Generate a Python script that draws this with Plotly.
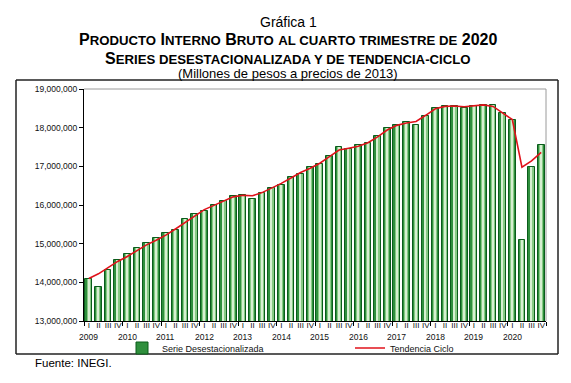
import numpy as np
import plotly.graph_objects as go

years = [str(y) for y in range(2009, 2021)]
quarters = ["I", "II", "III", "IV"]

# Serie desestacionalizada (billones -> x1e6 millones de pesos)
serie_desest = [14.09, 13.875, 14.33, 14.58, 14.73, 14.89, 15.03, 15.15,
                15.27, 15.35, 15.64, 15.77, 15.85, 15.99, 16.10, 16.23,
                16.25, 16.16, 16.32, 16.43, 16.53, 16.73, 16.79, 16.98,
                17.07, 17.28, 17.49, 17.44, 17.55, 17.61, 17.79, 17.99,
                18.08, 18.14, 18.06, 18.30, 18.52, 18.55, 18.57, 18.52,
                18.57, 18.58, 18.58, 18.38, 18.19, 15.10, 16.99, 17.55]
tendencia_ciclo = [14.10, 14.22, 14.38, 14.54, 14.67, 14.83, 14.97, 15.09,
                   15.22, 15.38, 15.55, 15.72, 15.88, 15.99, 16.11, 16.21,
                   16.25, 16.24, 16.32, 16.43, 16.56, 16.70, 16.84, 16.95,
                   17.08, 17.25, 17.42, 17.47, 17.52, 17.61, 17.76, 17.94,
                   18.06, 18.12, 18.16, 18.32, 18.49, 18.55, 18.56, 18.54,
                   18.57, 18.59, 18.55, 18.38, 18.21, 16.98, 17.14, 17.36]

y_ticks = [13e6, 14e6, 15e6, 16e6, 17e6, 18e6, 19e6]

sa = np.array(serie_desest) * 1e6
tc = np.array(tendencia_ciclo) * 1e6
n = len(sa)
x = np.arange(n)
qlabels = [quarters[i % 4] for i in range(n)]

OFF = 8  # page body margin
W, H = 571, 383
L = 84 - OFF
T = 89 - OFF
R = W - (546 - OFF)
B = H - (321 - OFF)
pw, ph = W - L - R, H - T - B

def px(xs):
    return (xs - OFF - L) / pw

def py(ys):
    return (H - B - (ys - OFF)) / ph

font = "Liberation Sans, Arial, sans-serif"

fig = go.Figure()
fig.add_trace(go.Bar(x=x, y=sa, width=0.70, name="Serie Desestacionalizada", legend="legend",
                     marker=dict(color="#2f8f3d", line=dict(color="#0a5c1b", width=1))))
fig.add_trace(go.Bar(x=x, y=sa, width=0.42, showlegend=False,
                     marker=dict(color="#86c983", line=dict(width=0))))
fig.add_trace(go.Bar(x=x, y=sa, width=0.16, showlegend=False,
                     marker=dict(color="#d6efd1", line=dict(width=0))))
fig.add_trace(go.Scatter(x=x, y=tc, mode="lines", name="Tendencia Ciclo", legend="legend2",
                         line=dict(color="#e0121b", width=1.6)))

leg_common = dict(orientation="h", yanchor="middle", xanchor="left",
                  font=dict(size=9, family=font, color="#111"),
                  bgcolor="rgba(0,0,0,0)", itemclick=False, borderwidth=0)

fig.update_layout(
    width=W, height=H, autosize=False,
    margin=dict(l=L, r=R, t=T, b=B, autoexpand=False),
    paper_bgcolor="white", plot_bgcolor="white",
    barmode="overlay", bargap=0,
    font=dict(family=font, color="#111"),
    showlegend=True,
    legend=dict(x=px(122), y=py(348), **leg_common),
    legend2=dict(x=px(350), y=py(348), **leg_common),
    xaxis=dict(range=[-0.5, n - 0.5], tickmode="array", tickvals=list(x), ticktext=qlabels,
               ticks="", showgrid=False, zeroline=False, showline=True, linecolor="black",
               linewidth=1, tickfont=dict(size=8, family=font, color="#111"),
               tickangle=0, ticklabelstandoff=-4,
               minor=dict(tickmode="array", tickvals=[i - 0.5 for i in range(0, n + 1, 4)],
                          ticks="outside", ticklen=4, tickcolor="black", tickwidth=1,
                          showgrid=False)),
    yaxis=dict(range=[13e6, 19e6], tickmode="array", tickvals=y_ticks, tickformat=",d",
               ticks="outside", ticklen=4, tickcolor="black", showgrid=False, zeroline=False,
               showline=True, linecolor="black", linewidth=1,
               tickfont=dict(size=8.5, family=font, color="#111")),
)

# plot-area top/right border (gray)
fig.add_shape(type="line", xref="paper", yref="paper", x0=0, x1=1, y0=1, y1=1,
              line=dict(color="#9a9a9a", width=1), layer="above")
fig.add_shape(type="line", xref="paper", yref="paper", x0=1, x1=1, y0=0, y1=1,
              line=dict(color="#9a9a9a", width=1), layer="above")
# outer frame (four sides)
fx0, fx1, fy0, fy1 = px(16), px(558), py(354), py(80)
for (a, b, c, d) in [(fx0, fx1, fy0, fy0), (fx0, fx1, fy1, fy1),
                     (fx0, fx0, fy0, fy1), (fx1, fx1, fy0, fy1)]:
    fig.add_shape(type="line", xref="paper", yref="paper", x0=a, x1=b, y0=c, y1=d,
                  line=dict(color="#222", width=1.5), layer="above")

# year labels
for k, yr in enumerate(years):
    fig.add_annotation(x=4 * k, xref="x", y=py(337), yref="paper", text=yr,
                       showarrow=False, xanchor="center", yanchor="middle",
                       font=dict(size=8.5, family=font, color="#111"))

cx = px(288)
fig.add_annotation(x=cx, y=py(22), xref="paper", yref="paper", text="Gráfica 1",
                   showarrow=False, yanchor="middle",
                   font=dict(size=14, family=font, color="black"))
big, small = 16, 13.2
def sc(word):
    return f"<span style='font-size:{big}px'>{word[0]}</span><span style='font-size:{small}px'>{word[1:]}</span>"
line2 = "<b>" + " ".join([sc("PRODUCTO"), sc("INTERNO"), sc("BRUTO"),
                          f"<span style='font-size:{small}px'>AL CUARTO TRIMESTRE DE</span>",
                          f"<span style='font-size:{big}px'>2020</span>"]) + "</b>"
line3 = "<b>" + sc("SERIES") + f"<span style='font-size:{small}px'> DESESTACIONALIZADA Y DE TENDENCIA-CICLO</span></b>"
fig.add_annotation(x=cx, y=py(40), xref="paper", yref="paper", text=line2,
                   showarrow=False, yanchor="middle",
                   font=dict(size=big, family=font, color="black"))
fig.add_annotation(x=cx, y=py(58), xref="paper", yref="paper", text=line3,
                   showarrow=False, yanchor="middle",
                   font=dict(size=big, family=font, color="black"))
fig.add_annotation(x=cx, y=py(74), xref="paper", yref="paper",
                   text="(Millones de pesos a precios de 2013)",
                   showarrow=False, yanchor="middle",
                   font=dict(size=13, family=font, color="black"))
fig.add_annotation(x=px(33), y=py(363), xref="paper", yref="paper", text="Fuente: INEGI.",
                   showarrow=False, xanchor="left", yanchor="middle",
                   font=dict(size=11.5, family=font, color="black"))

fig.write_html("out.html")
